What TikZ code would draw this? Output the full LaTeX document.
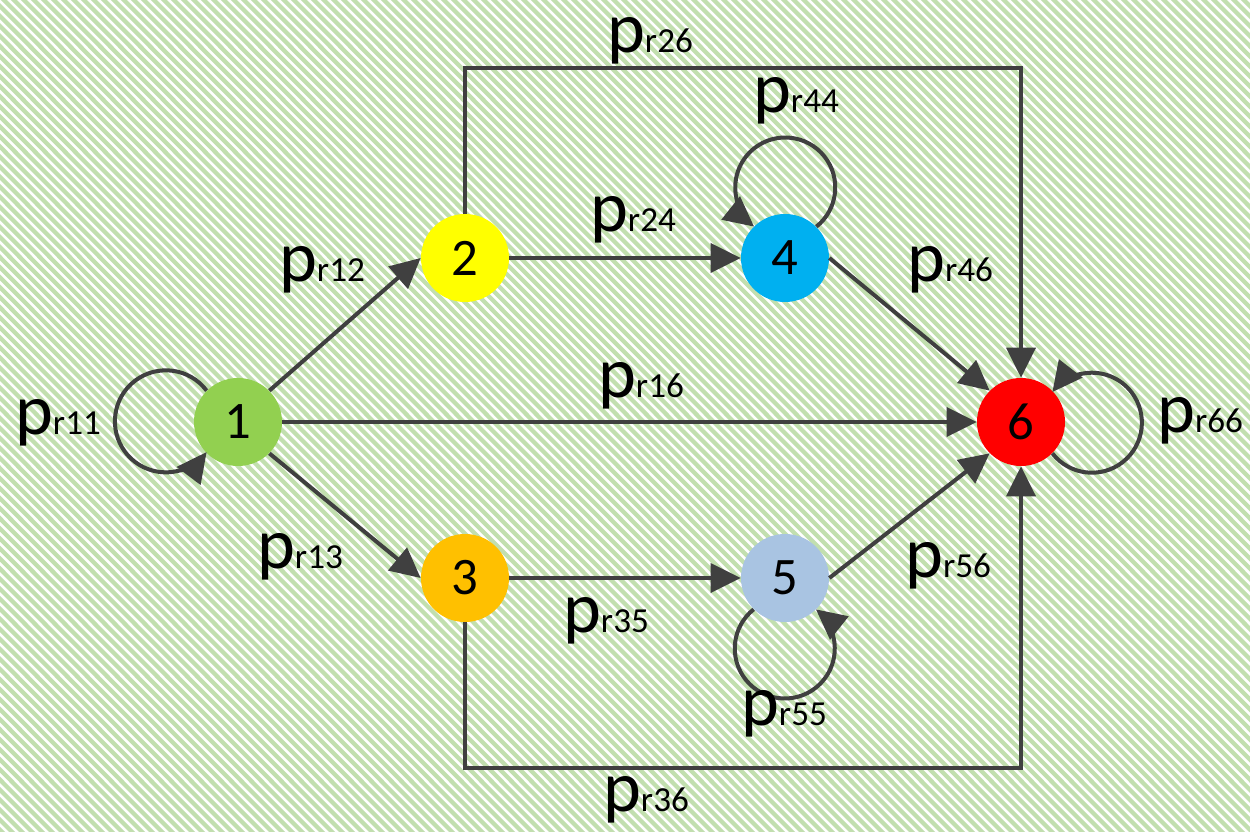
\documentclass[tikz,border=0pt]{standalone}
\usepackage{fontspec}
\setmainfont{Carlito}
\usepackage{xcolor}
\usepackage{tikz}
\usetikzlibrary{positioning,arrows.meta}
\definecolor{edgegray}{HTML}{404040}
\definecolor{stripegreen}{HTML}{C2DFAF}
\definecolor{st1}{HTML}{92D050}
\definecolor{st2}{HTML}{FFFF00}
\definecolor{st3}{HTML}{FFC000}
\definecolor{st4}{HTML}{00B0F0}
\definecolor{st5}{HTML}{A9C4E2}
\definecolor{st6}{HTML}{FF0000}
\newcommand{\prb}[1]{{\fontsize{41}{41}\selectfont p}{\fontsize{20}{20}\selectfont r#1}}
\tikzset{
  state/.style={circle,minimum size=1.76cm,inner sep=0pt,font=\fontsize{30}{30}\selectfont},
  arr/.style={-{Triangle[length=0.6cm,width=0.58cm]},line width=0.08cm,draw=edgegray},
  lbl/.style={inner sep=0pt},
  stripe/.style={draw=stripegreen,line width=0.085cm}
}

\begin{document}
\begin{tikzpicture}[on grid]
\useasboundingbox (0,0) rectangle (25,16.62);
\begin{scope}
\clip (0,0) rectangle (25,16.62);
\foreach \k in {0,...,213}
  \draw[stripe] (-16.8+0.2*\k,16.7) -- (-0.1+0.2*\k,-0.08);
\end{scope}

\node[state,fill=st1] (s1) at (4.76,8.18) {1};
\node[state,fill=st2,above right=3.28cm and 4.54cm of s1] (s2) {2};
\node[state,fill=st3,below right=3.12cm and 4.54cm of s1] (s3) {3};
\node[state,fill=st4,right=6.4cm of s2] (s4) {4};
\node[state,fill=st5,right=6.4cm of s3] (s5) {5};
\node[state,fill=st6,right=15.66cm of s1] (s6) {6};
\coordinate (top) at (s6 |- 0,15.26);
\coordinate (bot) at (s6 |- 0,1.26);

\draw[arr] (s1.45) -- (s2.west);
\draw[arr] (s1.-45) -- (s3.west);
\draw[arr] (s1) -- (s6);
\draw[arr] (s2) -- (s4);
\draw[arr] (s3) -- (s5);
\draw[arr] (s4.east) -- (s6.135);
\draw[arr] (s5.east) -- (s6.225);
\draw[arr] (s2.north) |- (top) -- (s6.north);
\draw[arr] (s3.south) |- (bot) -- (s6.south);

\draw[arr] (s1.135) arc[start angle=37,end angle=323,radius=1.02cm];
\draw[arr] (s4.45) arc[start angle=-51.5,end angle=231.5,radius=1.0cm];
\draw[arr] (s5.225) arc[start angle=128.5,end angle=411.5,radius=1.0cm];
\draw[arr] (s6.-45) arc[start angle=217.8,end angle=502.2,radius=1.0cm];

\node[lbl] (l11) at (1.16,8.16) {\prb{11}};
\node[lbl] (l12) at (6.44,11.22) {\prb{12}};
\node[lbl] (l13) at (6.0,5.48) {\prb{13}};
\node[lbl] (l16) at (12.82,8.9) {\prb{16}};
\node[lbl] (l24) at (12.66,12.22) {\prb{24}};
\node[lbl] (l26) at (13.0,15.8) {\prb{26}};
\node[lbl] (l35) at (12.12,4.2) {\prb{35}};
\node[lbl] (l36) at (12.92,0.62) {\prb{36}};
\node[lbl] (l44) at (15.92,14.6) {\prb{44}};
\node[lbl] (l46) at (19.0,11.22) {\prb{46}};
\node[lbl] (l55) at (15.68,2.34) {\prb{55}};
\node[lbl] (l56) at (18.96,5.3) {\prb{56}};
\node[lbl] (l66) at (24.0,8.2) {\prb{66}};
\end{tikzpicture}
\end{document}
